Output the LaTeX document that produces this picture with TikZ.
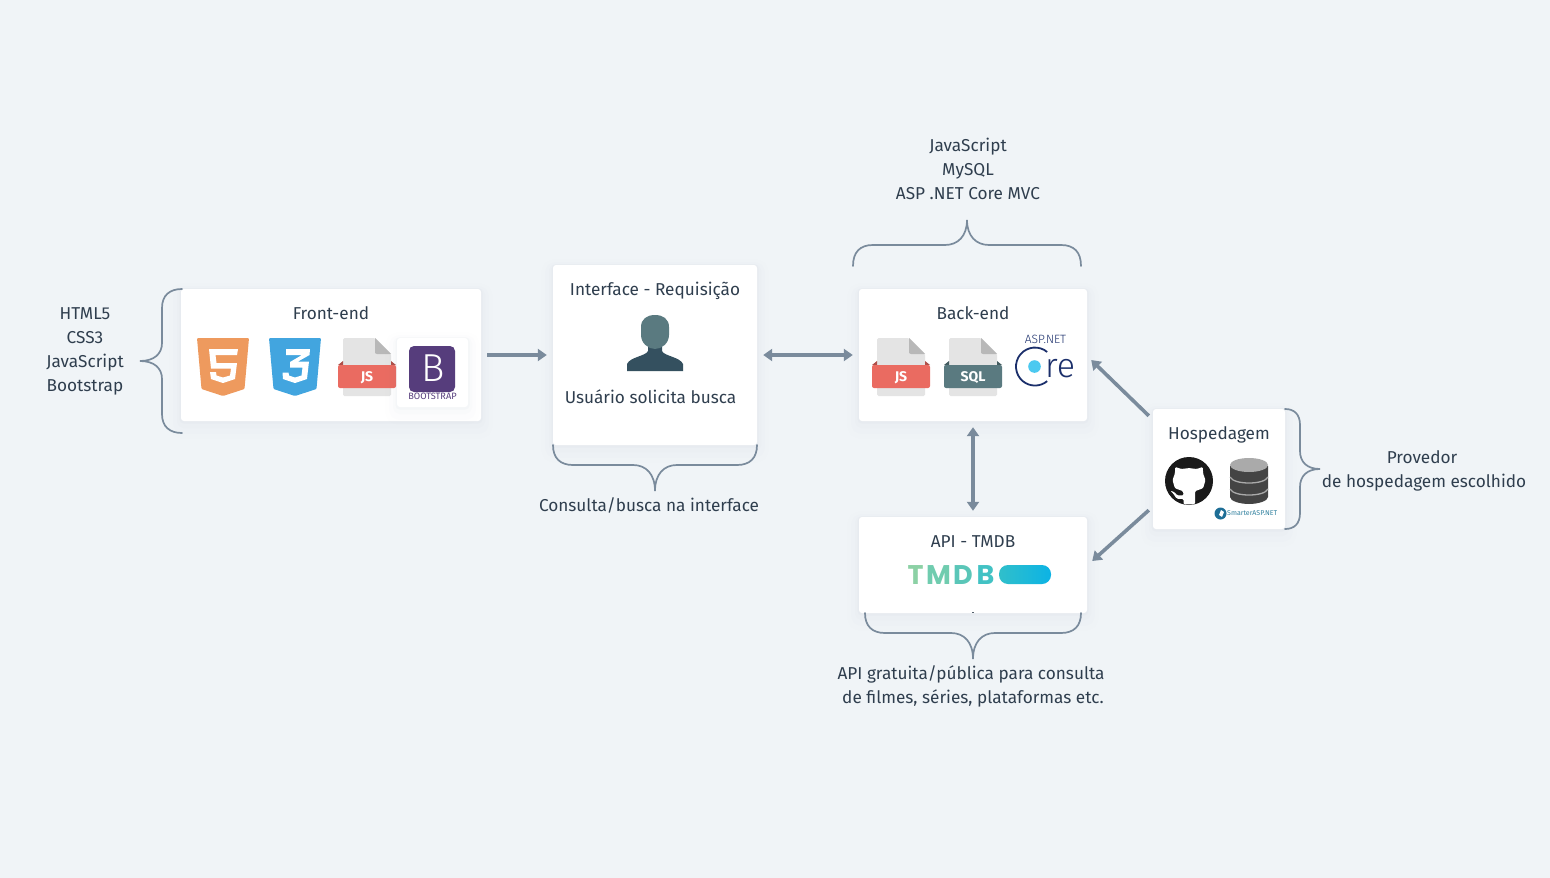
\documentclass[tikz,border=0pt]{standalone}
\usepackage{fontspec}
\setmainfont{Fira Sans}
\newfontfamily\poppinsf{Poppins}
\newfontfamily\firalight{Fira Sans Light}
\usetikzlibrary{arrows.meta,calc}
\definecolor{bg}{HTML}{F0F4F7}
\definecolor{ink}{HTML}{2F3E4E}
\definecolor{conn}{HTML}{7A8B9C}
\definecolor{teal}{HTML}{5A7A80}
\definecolor{navy}{HTML}{34505F}
\definecolor{jsred}{HTML}{EA6B61}
\definecolor{docg}{HTML}{E4E4E4}
\definecolor{foldg}{HTML}{B8B8B8}
\definecolor{purp}{HTML}{563D7C}
\definecolor{shad}{HTML}{8A9BB0}
\definecolor{aspnavy}{HTML}{1B2F6B}
\tikzset{
  x=1pt,y=-1pt,
  txt/.style={text=ink,inner sep=0pt,font=\fontsize{17.2}{24}\selectfont},
  lbl/.style={txt,anchor=base},
  multi/.style={txt,align=center},
  card/.style={fill=white,rounded corners=3pt,inner sep=0pt,
    preaction={draw=shad,line width=24pt,opacity=.006,transform canvas={yshift=-6pt}},
    preaction={draw=shad,line width=16pt,opacity=.01,transform canvas={yshift=-5pt}},
    preaction={draw=shad,line width=8pt,opacity=.02,transform canvas={yshift=-3pt}},
    preaction={draw=shad,line width=3pt,opacity=.04,transform canvas={yshift=-1pt}}},
  conn/.style={draw=conn,line width=3.6pt,shorten >=6pt,shorten <=6pt},
  one/.style={conn,-{Triangle[length=9pt,width=12pt]}},
  two/.style={conn,{Triangle[length=9pt,width=12pt]}-{Triangle[length=9pt,width=12pt]}},
  diag/.style={one,shorten >=0pt,shorten <=0pt},
  brace/.style={draw=conn,line width=1.7pt,line cap=round},
  tmdb/.style={inner sep=0pt,anchor=base,font=\poppinsf\bfseries\fontsize{27}{27}\selectfont},
}
% file icon: name, x, y, band colour, dark tip colour, label
\newcommand{\fileicon}[6]{%
  \begin{scope}[shift={(#2,#3)}]
    \fill[docg,rounded corners=1.5pt] (0,0) -- (32,0) -- (48,16) -- (48,58) -- (0,58) -- cycle;
    \fill[foldg] (32,0) -- (48,16) -- (34,16) .. controls (32.5,16) and (32,15) .. (32,14) -- cycle;
    \fill[#5] (-5,27) -- (0,23) -- (0,27) -- cycle;
    \fill[#5] (53,27) -- (48,23) -- (48,27) -- cycle;
    \fill[#4,rounded corners=2pt] (-5,27) rectangle (53,50);
    \node[inner sep=0pt,text=white,font=\bfseries\fontsize{14}{14}\selectfont] (#1) at (24,40) {#6};
  \end{scope}}
\begin{document}
\begin{tikzpicture}
\path[use as bounding box,fill=bg] (0,0) rectangle (1550,878);

% cards
\node[card,minimum width=300pt,minimum height=132pt] (front) at (331,355) {};
\node[card,minimum width=204pt,minimum height=180pt] (iface) at (655,355) {};
\node[card,minimum width=228pt,minimum height=132pt] (back) at (973,355) {};
\node[card,minimum width=228pt,minimum height=96pt] (api) at (973,565) {};
\node[card,minimum width=132pt,minimum height=120pt] (host) at (1219,469) {};

% connectors
\draw[one] (front.east) -- (iface.west);
\draw[two] (iface.east) -- (back.west);
\draw[two] (back.south) -- (api.north);
\draw[diag] ([xshift=-4pt,yshift=-7pt]host.north west) -- ([xshift=4pt,yshift=-5pt]back.east);
\draw[diag] ([xshift=-4pt,yshift=19pt]host.south west) -- ([xshift=5pt,yshift=4pt]api.east);
\fill[conn!70!black] (972.3,611.5) rectangle (973.7,613);

% braces
\draw[brace] (182,289) .. controls (170,289) and (162,295) .. (162,308) -- (162,343)
  .. controls (162,354) and (154,361) .. (140,361)
  .. controls (154,361) and (162,368) .. (162,379) -- (162,414)
  .. controls (162,427) and (170,433) .. (182,433);
\draw[brace] (853,266) .. controls (853,252) and (860,245) .. (873,245) -- (945,245)
  .. controls (958,245) and (967,236) .. (967,220)
  .. controls (967,236) and (976,245) .. (989,245) -- (1061,245)
  .. controls (1074,245) and (1081,252) .. (1081,266);
\draw[brace] (553,445) .. controls (553,458) and (560,465) .. (573,465) -- (633,465)
  .. controls (646,465) and (655,474) .. (655,491)
  .. controls (655,474) and (664,465) .. (677,465) -- (737,465)
  .. controls (750,465) and (757,458) .. (757,445);
\draw[brace] (865,613) .. controls (865,626) and (872,633) .. (885,633) -- (951,633)
  .. controls (964,633) and (973,642) .. (973,659)
  .. controls (973,642) and (982,633) .. (995,633) -- (1061,633)
  .. controls (1074,633) and (1081,626) .. (1081,613);
\draw[brace] (1285,409) .. controls (1294,409) and (1300,414) .. (1300,425) -- (1300,451)
  .. controls (1300,462) and (1307,469) .. (1320,469)
  .. controls (1307,469) and (1300,476) .. (1300,487) -- (1300,513)
  .. controls (1300,524) and (1294,529) .. (1285,529);

% labels
\node[lbl] (tfront) at (331,319) {Front-end};
\node[lbl] (tiface) at (655,295) {Interface - Requisição};
\node[lbl] (tuser) at (650.5,403) {Usuário solicita busca};
\node[lbl] (tback) at (973,319) {Back-end};
\node[lbl] (tapi) at (973,547) {API - TMDB};
\node[lbl] (thost) at (1219,439) {Hospedagem};
\node[multi] (lfront) at (85,351) {HTML5\\CSS3\\JavaScript\\Bootstrap};
\node[multi] (lback) at (968,169) {JavaScript\\MySQL\\ASP .NET Core MVC};
\node[lbl] (liface) at (649,511) {Consulta/busca na interface};
\node[multi] (lapi) at (973,686) {API gratuita/pública para consulta\hspace*{4pt}\\de filmes, séries, plataformas etc.};
\node[multi] (lhost) at (1424,471) {Provedor\hspace*{4pt}\\de hospedagem escolhido};

% HTML5
\begin{scope}[shift={(197,338)}]
  \fill[fill={rgb,255:red,238;green,154;blue,94},rounded corners=1pt] (0,0) -- (52,0) -- (47.5,51) -- (26,58) -- (4.5,51) -- cycle;
  \fill[white] (12,11) -- (41,11) -- (40,17) -- (18.5,17) -- (19.5,25) -- (40,25) -- (38,41) -- (26,45) -- (14,41) -- (13,34) -- (19,34) -- (19.5,37.5) -- (26,39.5) -- (33,37.5) -- (34,30.5) -- (14,30.5) -- cycle;
\end{scope}
% CSS3
\begin{scope}[shift={(269,338)}]
  \fill[fill={rgb,255:red,66;green,165;blue,223},rounded corners=1pt] (0,0) -- (52,0) -- (47.5,51) -- (26,58) -- (4.5,51) -- cycle;
  \fill[white] (17,11) -- (41,11) -- (40.5,17) -- (29,23.5) -- (40,23.5) -- (38,41) -- (26,45) -- (14,41) -- (13.5,34.5) -- (19.5,34.5) -- (20,37.5) -- (26,39.5) -- (32.5,37.5) -- (33.5,29.5) -- (21,29.5) -- (21,24) -- (33,17) -- (17,17) -- cycle;
\end{scope}
% files
\fileicon{jsa}{343}{338}{jsred}{jsred!75!black}{JS}
\fileicon{jsb}{877}{338}{jsred}{jsred!75!black}{JS}
\fileicon{sql}{949}{338}{teal}{teal!75!black}{SQL}
% Bootstrap
\node[card,minimum width=71pt,minimum height=69pt] (bscard) at (432.5,372.5) {};
\fill[purp,rounded corners=5pt] (409,346) rectangle (455,392);
\node[inner sep=0pt,text=white,font=\firalight\fontsize{39}{39}\selectfont] (bsb) at (433,368) {B};
\node[inner sep=0pt,text=purp,font=\fontsize{9.2}{10}\selectfont] (bst) at (432.5,396) {BOOTSTRAP};
% Person
\fill[navy] (648,340) -- (662,340) -- (662,351) .. controls (664,356) and (680,357) .. (683,364) -- (683,371) -- (627,371) -- (627,364) .. controls (630,357) and (646,356) .. (648,351) -- cycle;
\fill[teal] (641,327) .. controls (641,319) and (647,315) .. (655,315) .. controls (663,315) and (669,319) .. (669,327) -- (669,335) .. controls (669,343) and (662,349) .. (655,349) .. controls (648,349) and (641,343) .. (641,335) -- cycle;
% ASP.NET Core
\node[inner sep=0pt,text=aspnavy,font=\firalight\fontsize{12}{12}\selectfont] (aspt) at (1045.5,339) {ASP.NET};
\draw[draw=aspnavy,line width=1.8pt] (1047.2,352) arc[start angle=50,end angle=310,radius=19pt];
\fill[fill={rgb,255:red,76;green,201;blue,240}] (1034.5,366.5) circle[radius=6.3pt];
\node[inner sep=0pt,anchor=base west,text=aspnavy,font=\firalight\fontsize{34}{34}\selectfont] (aspre) at (1045,377) {re};
% TMDB
\node[tmdb,text={rgb,255:red,140;green,209;blue,165}] (tm1) at (915.5,584) {T};
\node[tmdb,text={rgb,255:red,112;green,204;blue,175}] (tm2) at (938.5,584) {M};
\node[tmdb,text={rgb,255:red,90;green,198;blue,184}] (tm3) at (963,584) {D};
\node[tmdb,text={rgb,255:red,66;green,194;blue,196}] (tm4) at (985.5,584) {B};
\shade[left color={rgb,255:red,48;green,191;blue,203},right color={rgb,255:red,12;green,179;blue,229},rounded corners=9pt] (999,565) rectangle (1051,584);
% GitHub
\fill[fill={rgb,255:red,26;green,26;blue,26}] (1189,481) circle[radius=24pt];
\begin{scope}[shift={(1165,457)},scale=3]
  \fill[white,rounded corners=1.2pt] (6.2,15.8) -- (6.2,14) -- (3.9,13.9) -- (2.9,12.4) -- (1.8,11.2) -- (3.1,11.7) -- (4.1,12.8) -- (6.2,12.8) -- (6,11.4) -- (3.3,10.4) -- (2.5,7.7) -- (3.3,5.5) -- (3.4,3.3) -- (5.4,4) -- (8,3.7) -- (10.6,4) -- (12.6,3.3) -- (12.7,5.5) -- (13.5,7.7) -- (12.7,10.4) -- (10,11.4) -- (10,15.8) -- cycle;
\end{scope}
% database
\fill[fill={rgb,255:red,68;green,68;blue,68}] (1230,466) -- (1230,497) .. controls (1230,501) and (1240,504) .. (1249,504) .. controls (1258,504) and (1268,501) .. (1268,497) -- (1268,466) -- cycle;
\fill[fill={rgb,255:red,170;green,170;blue,170}] (1249,465) ellipse[x radius=19pt,y radius=7pt];
\draw[draw={rgb,255:red,170;green,170;blue,170},line width=1.3pt] (1230,477) .. controls (1232,481) and (1240,483) .. (1249,483) .. controls (1258,483) and (1266,481) .. (1268,477);
\draw[draw={rgb,255:red,170;green,170;blue,170},line width=1.3pt] (1230,489) .. controls (1232,493) and (1240,495) .. (1249,495) .. controls (1258,495) and (1266,493) .. (1268,489);
% SmarterASP
\fill[fill={rgb,255:red,30;green,110;blue,150}] (1220.5,513.5) circle[radius=6pt];
\fill[white] (1221,510) -- (1224,512) -- (1222,517) -- (1219,515) -- cycle;
\node[inner sep=0pt,anchor=west,text={rgb,255:red,50;green,130;blue,160},font=\fontsize{7}{7}\selectfont] (smart) at (1227,513.5) {SmarterASP.NET};
\end{tikzpicture}
\end{document}
